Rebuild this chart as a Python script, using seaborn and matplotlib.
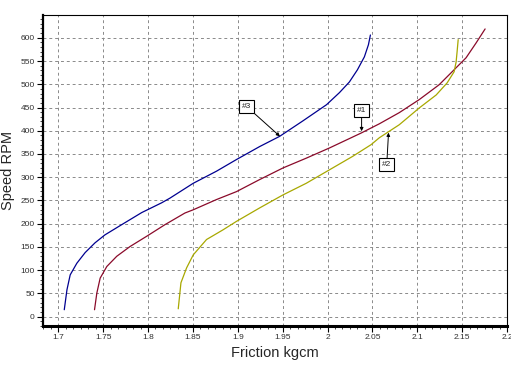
import matplotlib
matplotlib.use("Agg")
import matplotlib.pyplot as plt
from matplotlib.ticker import MultipleLocator, AutoMinorLocator, FuncFormatter
import seaborn as sns
import pandas as pd

# --- data ---
friction_3 = [1.7067, 1.7097, 1.7133, 1.7207, 1.730, 1.741, 1.752, 1.7707, 1.793, 1.8152, 1.8244,
              1.8504, 1.8763, 1.8985, 1.9244, 1.9467, 1.9724, 1.9989, 2.0133, 2.0244, 2.0333,
              2.0411, 2.0456, 2.0478]
speed_3 = [15, 58, 90, 115, 138, 159, 176, 198, 224, 245, 255,
           287, 313, 338, 366, 388, 421, 456, 482, 505, 531,
           559, 585, 606]

friction_1 = [1.7404, 1.743, 1.7467, 1.7541, 1.7652, 1.780, 1.7985, 1.8189, 1.8411, 1.8504,
              1.8763, 1.8985, 1.9244, 1.9504, 1.9763, 2.0022, 2.0374, 2.0578, 2.080, 2.1022,
              2.1244, 2.1389, 2.1544, 2.1656, 2.1756]
speed_1 = [15, 51, 83, 108, 130, 151, 173, 198, 223, 230,
           252, 269, 295, 320, 341, 363, 395, 415, 439, 467,
           499, 527, 557, 589, 619]

friction_2 = [1.8337, 1.8367, 1.843, 1.8504, 1.8652, 1.8837, 1.8985, 1.9244, 1.9504, 1.9763,
              2.0022, 2.0281, 2.0485, 2.0578, 2.080, 2.1022, 2.1211, 2.1333, 2.1411, 2.1433,
              2.1444, 2.1456]
speed_2 = [17, 73, 105, 133, 166, 187, 205, 234, 262, 287,
           316, 345, 370, 385, 413, 449, 477, 503, 527, 548,
           570, 596]

series_names = ["#1", "#2", "#3"]
series_colors = ["#8a0a2a", "#a8a800", "#000090"]

labels = ["#3", "#1", "#2"]
label_xy = [(1.910, 452), (2.038, 443), (2.066, 327)]
label_tip = [(1.947, 388), (2.038, 399), (2.068, 396)]

rows = []
for name, xs, ys in [("#1", friction_1, speed_1), ("#2", friction_2, speed_2), ("#3", friction_3, speed_3)]:
    for i, (x, y) in enumerate(zip(xs, ys)):
        rows.append({"series": name, "order": i, "Friction": x, "Speed": y})
df = pd.DataFrame(rows)

sns.set_style("white")
plt.rcParams["font.family"] = ["Liberation Sans", "DejaVu Sans"]

fig = plt.figure(figsize=(5.11, 3.67), dpi=100)
ax = fig.add_axes([43 / 511, 1 - 326 / 367, (507 - 43) / 511, (326 - 15) / 367])

sns.lineplot(data=df, x="Friction", y="Speed", hue="series", units="series",
             estimator=None, sort=False, palette=dict(zip(series_names, series_colors)),
             linewidth=0.9, legend=False, ax=ax)

ax.set_xlim(1.683, 2.2)
ax.set_ylim(-20, 649)
ax.xaxis.set_major_locator(MultipleLocator(0.05))
ax.xaxis.set_minor_locator(AutoMinorLocator(6))
ax.yaxis.set_major_locator(MultipleLocator(50))
ax.yaxis.set_minor_locator(AutoMinorLocator(5))
ax.xaxis.set_major_formatter(FuncFormatter(lambda v, p: ("%.2f" % v).rstrip("0").rstrip(".")))

ax.grid(True, which="major", linestyle=(0, (3, 3)), color="#8a8a8a", linewidth=0.7)
ax.tick_params(axis="both", which="major", direction="out", length=4, width=0.8,
               labelsize=6, colors="black", labelcolor="#303030", left=True, bottom=True, pad=2)
ax.tick_params(axis="both", which="minor", direction="out", length=2, width=0.6,
               left=True, bottom=True)

for side in ["top", "right"]:
    ax.spines[side].set_visible(True)
    ax.spines[side].set_linewidth(0.8)
    ax.spines[side].set_color("black")
ax.spines["left"].set_linewidth(1.6)
ax.spines["left"].set_color("black")
ax.spines["bottom"].set_linewidth(2.2)
ax.spines["bottom"].set_color("black")

ax.set_xlabel("Friction kgcm", fontsize=10.5, labelpad=3)
ax.set_ylabel("Speed RPM", fontsize=10.5, labelpad=4)

for text, xy, tip in zip(labels, label_xy, label_tip):
    ax.annotate(text, xy=tip, xytext=xy, fontsize=6, ha="center", va="center",
                bbox=dict(boxstyle="square,pad=0.35", fc="white", ec="black", lw=0.8),
                arrowprops=dict(arrowstyle="-|>", color="black", lw=0.7,
                                mutation_scale=5, shrinkA=0, shrinkB=0))

fig.savefig("out.png", dpi=100)
